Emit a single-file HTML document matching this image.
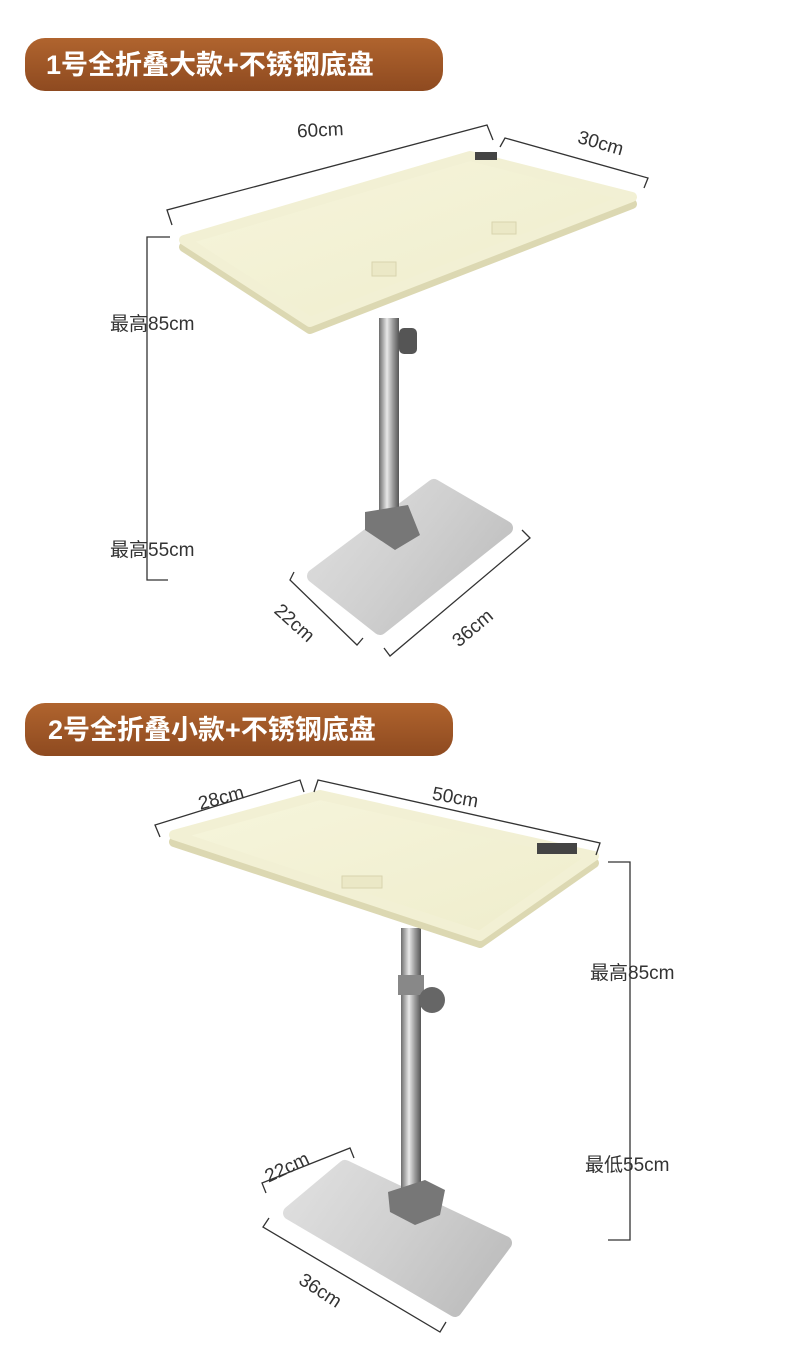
<!DOCTYPE html>
<html><head><meta charset="utf-8"><style>
html,body{margin:0;padding:0;background:#fff;}
svg{display:block;}
text{font-family:"Liberation Sans","Noto Sans CJK SC",sans-serif;fill:#333;}
.b{font-weight:bold;fill:#fff;font-size:27px;}
.d{font-size:19px;}
</style></head><body>
<svg width="790" height="1350" viewBox="0 0 790 1350" xmlns="http://www.w3.org/2000/svg">
<defs>
<linearGradient id="ban" x1="0" y1="0" x2="0" y2="1"><stop offset="0" stop-color="#b0642e"/><stop offset="1" stop-color="#8e4a20"/></linearGradient>
<linearGradient id="top" x1="0" y1="0" x2="1" y2="1"><stop offset="0" stop-color="#f6f5dc"/><stop offset="1" stop-color="#efedcc"/></linearGradient>
<linearGradient id="pole" x1="0" y1="0" x2="1" y2="0"><stop offset="0" stop-color="#6d6d6d"/><stop offset=".4" stop-color="#e8e8e8"/><stop offset=".7" stop-color="#9a9a9a"/><stop offset="1" stop-color="#555"/></linearGradient>
<linearGradient id="base" gradientUnits="userSpaceOnUse" x1="300" y1="480" x2="510" y2="640"><stop offset="0" stop-color="#e2e2e2"/><stop offset=".5" stop-color="#cfcfcf"/><stop offset="1" stop-color="#b8b8b8"/></linearGradient>
<linearGradient id="base2" gradientUnits="userSpaceOnUse" x1="280" y1="1160" x2="510" y2="1320"><stop offset="0" stop-color="#e2e2e2"/><stop offset=".5" stop-color="#cfcfcf"/><stop offset="1" stop-color="#b8b8b8"/></linearGradient>
</defs>
<!-- banner 1 -->
<rect x="25" y="38" width="418" height="53" rx="20" fill="url(#ban)"/>
<text class="b" x="46" y="74">1号全折叠大款+不锈钢底盘</text>
<!-- table 1 -->
<polygon points="314,576 434,486 506,528 380,628" fill="url(#base)" stroke="url(#base)" stroke-linejoin="round" stroke-width="14"/>
<rect x="379" y="318" width="20" height="195" fill="url(#pole)"/>
<rect x="399" y="328" width="18" height="26" rx="5" fill="#555"/>
<polygon points="365,512 408,505 420,535 395,550 365,530" fill="#777"/>
<polygon points="184,240 470,156 632,197 310,322" fill="#dcd8b2" stroke="#dcd8b2" stroke-width="10" stroke-linejoin="round" transform="translate(0,7)"/>
<polygon points="184,240 470,156 632,197 310,322" fill="url(#top)" stroke="#f2f0d4" stroke-width="10" stroke-linejoin="round"/>
<rect x="475" y="152" width="22" height="8" fill="#444"/>
<rect x="372" y="262" width="24" height="14" fill="#ebe8c6" stroke="#d8d4ae"/>
<rect x="492" y="222" width="24" height="12" fill="#ebe8c6" stroke="#d8d4ae"/>
<g stroke="#333" stroke-width="1.3" fill="none">
<polyline points="172,225 167,210 487,125 493,140"/>
<polyline points="500,147 505,138 648,178 644,188"/>
<polyline points="170,237 147,237 147,580 168,580"/>
<polyline points="294,572 290,580 357,645 363,638"/>
<polyline points="384,648 390,656 530,538 522,530"/>
</g>
<text class="d" x="297" y="136" transform="rotate(-3 325 130)">60cm</text>
<text class="d" x="577" y="150" transform="rotate(16 603 145)">30cm</text>
<text class="d" x="110" y="330">最高85cm</text>
<text class="d" x="110" y="556">最高55cm</text>
<text class="d" x="270" y="630" transform="rotate(42 295 625)">22cm</text>
<text class="d" x="448" y="632" transform="rotate(-40 475 625)">36cm</text>
<!-- banner 2 -->
<rect x="25" y="703" width="428" height="53" rx="20" fill="url(#ban)"/>
<text class="b" x="48" y="739">2号全折叠小款+不锈钢底盘</text>
<!-- table 2 -->
<polygon points="290,1213 345,1167 505,1243 455,1310" fill="url(#base2)" stroke="url(#base2)" stroke-linejoin="round" stroke-width="14"/>
<rect x="401" y="928" width="20" height="265" fill="url(#pole)"/>
<rect x="398" y="975" width="26" height="20" fill="#888"/>
<circle cx="432" cy="1000" r="13" fill="#666"/>
<polygon points="388,1192 425,1180 445,1190 440,1215 415,1225 390,1212" fill="#777"/>
<polygon points="174,835 320,795 594,856 480,936" fill="#dcd8b2" stroke="#dcd8b2" stroke-width="10" stroke-linejoin="round" transform="translate(0,7)"/>
<polygon points="174,835 320,795 594,856 480,936" fill="url(#top)" stroke="#f2f0d4" stroke-width="10" stroke-linejoin="round"/>
<rect x="537" y="843" width="40" height="11" fill="#444"/>
<rect x="342" y="876" width="40" height="12" fill="#ebe8c6" stroke="#d8d4ae"/>
<g stroke="#333" stroke-width="1.3" fill="none">
<polyline points="160,837 155,825 300,780 304,792"/>
<polyline points="314,792 318,780 600,843 596,855"/>
<polyline points="608,862 630,862 630,1240 608,1240"/>
<polyline points="266,1193 262,1183 350,1148 354,1158"/>
<polyline points="269,1218 263,1227 440,1332 446,1322"/>
</g>
<text class="d" x="198" y="803" transform="rotate(-15 225 798)">28cm</text>
<text class="d" x="432" y="804" transform="rotate(10 458 798)">50cm</text>
<text class="d" x="590" y="979">最高85cm</text>
<text class="d" x="585" y="1171">最低55cm</text>
<text class="d" x="263" y="1172" transform="rotate(-25 290 1165)">22cm</text>
<text class="d" x="296" y="1298" transform="rotate(33 322 1293)">36cm</text>
</svg>
</body></html>
